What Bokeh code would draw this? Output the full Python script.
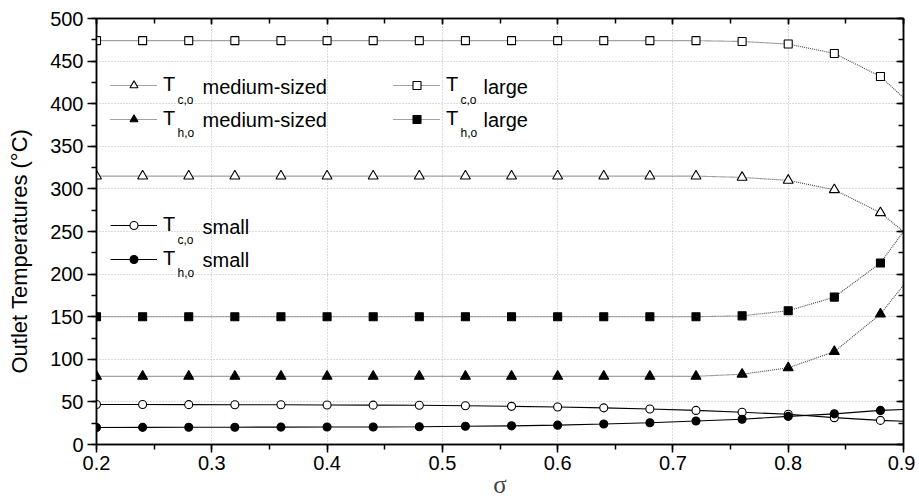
from bokeh.plotting import figure
from bokeh.models import (Range1d, SingleIntervalTicker, LinearAxis, Legend, LegendItem, Label,
                          CustomJSTickFormatter, Title)
from bokeh.embed import file_html
from bokeh.resources import INLINE

# ---------------- data ----------------
sigma = [0.20, 0.24, 0.28, 0.32, 0.36, 0.40, 0.44, 0.48, 0.52, 0.56,
         0.60, 0.64, 0.68, 0.72, 0.76, 0.80, 0.84, 0.88, 0.90]
n_markers = 18  # markers at 0.20 ... 0.88, line continues to 0.90

tc_large = [474, 474, 474, 474, 474, 474, 474, 474, 474, 474,
            474, 474, 474, 474, 473, 470, 459, 432, 407]
th_large = [150, 150, 150, 150, 150, 150, 150, 150, 150, 150,
            150, 150, 150, 150, 151, 157, 173, 213, 250]
tc_medium = [315, 315, 315, 315, 315, 315, 315, 315, 315, 315,
             315, 315, 315, 315, 313.5, 310, 299, 272, 250]
th_medium = [80, 80, 80, 80, 80, 80, 80, 80, 80, 80,
             80, 80, 80, 80, 82.5, 90, 109, 153, 187]
tc_small = [47.0, 46.9, 46.8, 46.7, 46.6, 46.4, 46.2, 46.0, 45.5, 44.8,
            44.0, 43.0, 41.6, 40.0, 37.8, 35.5, 31.5, 28.3, 27.3]
th_small = [20.0, 20.1, 20.2, 20.3, 20.4, 20.5, 20.6, 20.8, 21.4, 21.9,
            22.7, 24.0, 25.6, 27.6, 29.7, 33.0, 36.0, 40.0, 41.0]

x_ticks_interval = 0.1
y_ticks_interval = 50

legend_med = [("c,o", "medium-sized"), ("h,o", "medium-sized")]
legend_large = [("c,o", "large"), ("h,o", "large")]
legend_small = [("c,o", "small"), ("h,o", "small")]

x_title = "σ"
y_title = "Outlet Temperatures (°C)"

FONT = "Liberation Sans"

# ---------------- figure ----------------
W, H = 915, 501
BL, BR, BT, BB = 96, 12, 18, 57
p = figure(width=W, height=H, output_backend="svg", toolbar_location=None,
           x_range=Range1d(0.2, 0.9), y_range=Range1d(0, 500),
           min_border_left=BL, min_border_right=BR, min_border_top=BT, min_border_bottom=BB)
p.background_fill_color = "white"
p.border_fill_color = "white"
p.outline_line_color = "black"
p.outline_line_width = 1.5

xt = SingleIntervalTicker(interval=x_ticks_interval, num_minor_ticks=2)
yt = SingleIntervalTicker(interval=y_ticks_interval, num_minor_ticks=2)

for ax in (p.xaxis[0], p.yaxis[0]):
    ax.axis_line_color = "black"
    ax.axis_line_width = 1.5
    ax.major_tick_line_width = 1.5
    ax.minor_tick_line_width = 1.5
    ax.major_tick_in = 0
    ax.minor_tick_in = 0
    ax.major_label_text_font = FONT
    ax.major_label_text_font_size = "20px"
    ax.major_label_text_color = "black"

p.xaxis.ticker = xt
p.yaxis.ticker = yt
p.xaxis.major_tick_out = 8
p.xaxis.minor_tick_out = 5
p.yaxis.major_tick_out = 9
p.yaxis.minor_tick_out = 5
p.xaxis.major_label_standoff = 3
p.yaxis.major_label_standoff = 4

p.xaxis.axis_label = x_title
p.xaxis.axis_label_text_font = "Liberation Serif"
p.xaxis.axis_label_text_font_style = "normal"
p.xaxis.axis_label_text_font_size = "25px"
p.xaxis.axis_label_standoff = -2

blank = CustomJSTickFormatter(code="return ''")

# invisible spacer between the y axis and its title (only its tick length takes room)
spacer = LinearAxis(ticker=SingleIntervalTicker(interval=y_ticks_interval, num_minor_ticks=0),
                    formatter=blank, major_label_standoff=0,
                    major_tick_in=0, major_tick_out=12, minor_tick_in=0, minor_tick_out=0,
                    axis_line_color=None, major_tick_line_color=None, minor_tick_line_color=None)
p.add_layout(spacer, "left")

# y axis title, placed as a side title so it can sit below the frame centre
p.add_layout(Title(text=y_title, align="left", offset=71, standoff=8,
                   text_font=FONT, text_font_size="22px", text_font_style="normal",
                   text_color="black"), "left")

# box axes (top & right) with inward ticks, no labels
top = LinearAxis(ticker=SingleIntervalTicker(interval=x_ticks_interval, num_minor_ticks=2),
                 formatter=blank, major_label_standoff=0,
                 major_tick_in=6, major_tick_out=0, minor_tick_in=5, minor_tick_out=0,
                 axis_line_width=1.5, major_tick_line_width=1.5, minor_tick_line_width=1.5)
right = LinearAxis(ticker=SingleIntervalTicker(interval=y_ticks_interval, num_minor_ticks=2),
                   formatter=blank, major_label_standoff=0,
                   major_tick_in=7, major_tick_out=0, minor_tick_in=5, minor_tick_out=0,
                   axis_line_width=1.5, major_tick_line_width=1.5, minor_tick_line_width=1.5)
p.add_layout(top, "above")
p.add_layout(right, "right")

for g in (p.xgrid[0], p.ygrid[0]):
    g.grid_line_color = "#b8b8b8"
    g.grid_line_dash = "1 2"
    g.grid_line_width = 1

# frame geometry (absolute page pixels), used to place screen-unit annotations
FRAME_LEFT = BL
FRAME_BOTTOM = H - BB

def sx(abs_x):
    return abs_x - FRAME_LEFT

def sy(abs_y):
    return FRAME_BOTTOM - abs_y

# ---------------- series ----------------
def series(yvals, marker, fill, dash, lcolor):
    ln = p.line(sigma, yvals, line_color=lcolor, line_width=1.1, line_dash=dash)
    sc = p.scatter(sigma[:n_markers], yvals[:n_markers], marker=marker,
                   size=10 if marker == "triangle" else 8,
                   fill_color=fill, line_color="black", line_width=1.1)
    return [ln, sc]

DOT = "1 1"
r_tc_large = series(tc_large, "square", "white", DOT, "#444444")
r_th_large = series(th_large, "square", "black", DOT, "#444444")
r_tc_med = series(tc_medium, "triangle", "white", DOT, "#444444")
r_th_med = series(th_medium, "triangle", "black", DOT, "#444444")
r_tc_small = series(tc_small, "circle", "white", "solid", "black")
r_th_small = series(th_small, "circle", "black", "solid", "black")

# ---------------- legends ----------------
ITEM_H = 22
SPACING = 11
GLYPH_W = 47
STANDOFF = 6

def add_legend(items, glyph_x_abs, row1_abs, texts, word_dx):
    top_abs = row1_abs - ITEM_H / 2
    bottom_abs = top_abs + 2 * ITEM_H + SPACING
    lg = Legend(items=[LegendItem(label="T", renderers=r) for r in items],
                location=(sx(glyph_x_abs), sy(bottom_abs)), orientation="vertical",
                border_line_color=None, background_fill_alpha=0,
                padding=0, margin=0, glyph_width=GLYPH_W, glyph_height=20,
                label_height=20, label_standoff=STANDOFF, spacing=SPACING,
                label_text_font=FONT, label_text_font_size="20px", label_text_color="black")
    p.add_layout(lg)
    t_x = glyph_x_abs + GLYPH_W + STANDOFF
    for i, (sub, word) in enumerate(texts):
        cy = row1_abs + i * (ITEM_H + SPACING)
        p.add_layout(Label(x=sx(t_x + 14), y=sy(cy + 13), x_units="screen", y_units="screen",
                           text=sub, text_font=FONT, text_font_size="12px",
                           text_baseline="middle", text_align="left", text_color="black"))
        p.add_layout(Label(x=sx(t_x + word_dx), y=sy(cy), x_units="screen", y_units="screen",
                           text=word, text_font=FONT, text_font_size="20px",
                           text_baseline="middle", text_align="left", text_color="black"))

add_legend([r_tc_med, r_th_med], 110, 86, legend_med, 39)
add_legend([r_tc_large, r_th_large], 393, 86, legend_large, 37)
add_legend([r_tc_small, r_th_small], 110, 226, legend_small, 39)

open("out.html", "w").write(file_html(p, INLINE))
